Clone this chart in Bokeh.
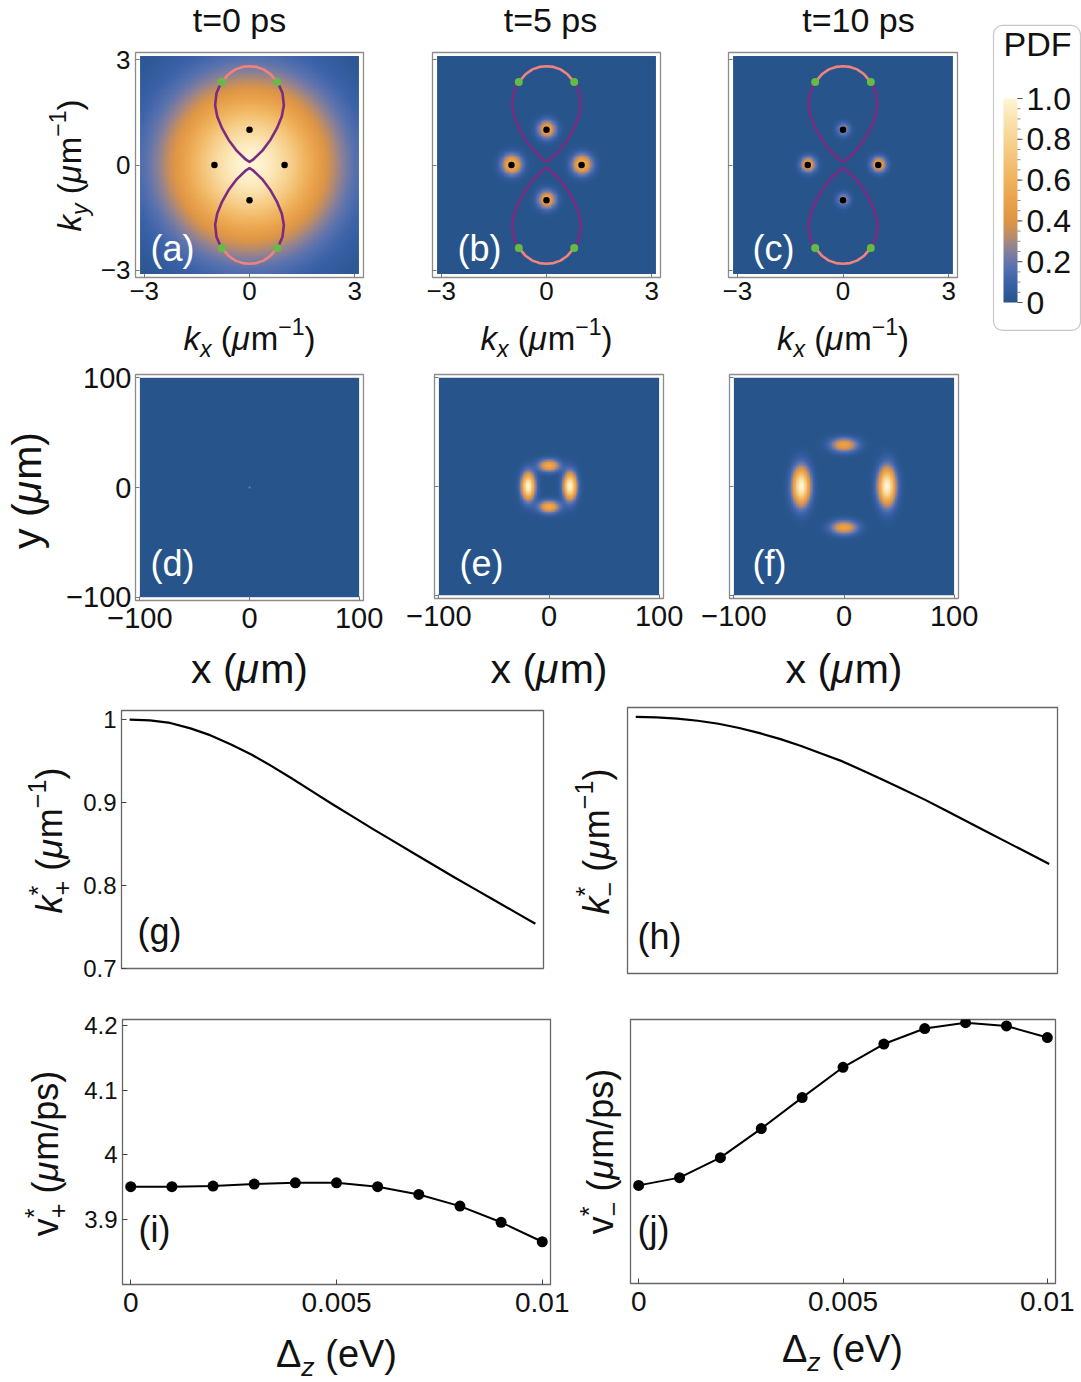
import numpy as np
from math import pi
from bokeh.plotting import figure
from bokeh.layouts import column, row
from bokeh.models import Range1d, FixedTicker, LinearColorMapper, Label, BoxAnnotation
from bokeh.core.properties import value
from bokeh.embed import file_html
from bokeh.resources import INLINE

FONT = "Liberation Sans"
MID = 0.3465  # distance from the alphabetic baseline to the middle of a text line, in em

# ---------------- data ----------------
time_titles = ["t=0 ps", "t=5 ps", "t=10 ps"]
panel_tags = ["(a)", "(b)", "(c)", "(d)", "(e)", "(f)", "(g)", "(h)", "(i)", "(j)"]

k_ticks = [-3, 0, 3]
k_tick_labels = ["−3", "0", "3"]
r_ticks = [-100, 0, 100]
r_tick_labels = ["−100", "0", "100"]

# right half of the upper spin-texture lobe (purple) and its cap (pink)
lobe_kx = [0.0, 0.10, 0.36, 0.60, 0.78, 0.92, 0.98, 0.94, 0.86, 0.79]
lobe_ky = [0.09, 0.15, 0.40, 0.72, 1.04, 1.38, 1.70, 2.05, 2.23, 2.36]
cap_kx = [0.79, 0.60, 0.40, 0.20, 0.0]
cap_ky = [2.36, 2.58, 2.72, 2.79, 2.81]
green_kx = [0.79, -0.79, 0.79, -0.79]
green_ky = [2.36, 2.36, -2.36, -2.36]
valley_kx = [0, 0, -1, 1]
valley_ky = [1, -1, 0, 0]

# momentum-space wave-packet components: centre, widths, peak PDF
a_cx, a_cy, a_sx, a_sy, a_amp = [0.0], [0.0], [1.6], [1.6], [1.0]
b_cx, b_cy = [1, -1, 0, 0], [0, 0, 1, -1]
b_sx, b_sy = [0.2, 0.2, 0.18, 0.18], [0.2, 0.2, 0.18, 0.18]
b_amp = [0.62, 0.62, 0.55, 0.55]
c_cx, c_cy = [1, -1, 0, 0], [0, 0, 1, -1]
c_sx, c_sy = [0.15, 0.15, 0.13, 0.13], [0.15, 0.15, 0.13, 0.13]
c_amp = [0.55, 0.55, 0.32, 0.32]

# real-space wave-packet components
d_cx, d_cy, d_sx, d_sy, d_amp = [0.0], [0.0], [0.7], [0.7], [0.35]
e_cx, e_cy = [19, -19, 0, 0], [0, 0, 19, -19]
e_sx, e_sy = [4.2, 4.2, 6.8, 6.8], [8.5, 8.5, 4.0, 4.0]
e_amp = [1.0, 1.0, 0.55, 0.55]
f_cx, f_cy = [39, -39, 0, 0], [0, 0, 38, -38]
f_sx, f_sy = [5.5, 5.5, 8.5, 8.5], [12.0, 12.0, 4.5, 4.5]
f_amp = [1.0, 1.0, 0.5, 0.5]

# Zeeman-gap sweep
dz_fine = [0.0, 0.0005, 0.001, 0.0015, 0.002, 0.0025, 0.003, 0.0035, 0.004, 0.0045, 0.005,
           0.0055, 0.006, 0.0065, 0.007, 0.0075, 0.008, 0.0085, 0.009, 0.0095, 0.010]
k_plus = [1.000, 0.999, 0.996, 0.9895, 0.981, 0.970, 0.958, 0.944, 0.929, 0.9135, 0.898,
          0.883, 0.868, 0.8535, 0.839, 0.8245, 0.810, 0.796, 0.782, 0.768, 0.754]
k_minus = [1.000, 0.9995, 0.998, 0.9955, 0.992, 0.987, 0.981, 0.974, 0.966, 0.957, 0.948,
           0.937, 0.926, 0.9145, 0.903, 0.8905, 0.878, 0.8655, 0.853, 0.8405, 0.828]
dz = [0.0, 0.001, 0.002, 0.003, 0.004, 0.005, 0.006, 0.007, 0.008, 0.009, 0.010]
v_plus = [3.951, 3.951, 3.952, 3.955, 3.957, 3.957, 3.951, 3.939, 3.921, 3.896, 3.866]
v_minus = [3.952, 3.964, 3.995, 4.040, 4.088, 4.135, 4.171, 4.195, 4.204, 4.199, 4.181]

dz_ticks = [0, 0.005, 0.01]
dz_tick_labels = ["0", "0.005", "0.01"]
kstar_ticks = [0.7, 0.8, 0.9, 1.0]
kstar_tick_labels = ["0.7", "0.8", "0.9", "1"]
vstar_ticks = [3.9, 4.0, 4.1, 4.2]
vstar_tick_labels = ["3.9", "4", "4.1", "4.2"]
cb_ticks = [0, 0.2, 0.4, 0.6, 0.8, 1.0]
cb_tick_labels = ["0", "0.2", "0.4", "0.6", "0.8", "1.0"]
cb_minor = [round(0.05 * i, 2) for i in range(21)]

# ---------------- colour map ----------------
cmap_stops = [0.0, 0.10, 0.18, 0.26, 0.33, 0.40, 0.50, 0.62, 0.76, 0.90, 1.0]
cmap_colors = ["#27548B", "#3C62A9", "#5A73AE", "#8C8196", "#BC8C68", "#DD9646",
               "#EAA24C", "#F0B661", "#F6CD88", "#FBE3AF", "#FFF5D5"]


def build_palette(stops, colors, n=256):
    rgb = np.array([[int(c[i:i + 2], 16) for i in (1, 3, 5)] for c in colors], float)
    out = []
    for t in np.linspace(0, 1, n):
        r, g, b = (np.interp(t, stops, rgb[:, j]) for j in range(3))
        out.append("#%02x%02x%02x" % (int(round(r)), int(round(g)), int(round(b))))
    return out


palette = build_palette(cmap_stops, cmap_colors)
mapper = LinearColorMapper(palette=palette, low=0, high=1)


def pdf_image(cx, cy, sx, sy, amp, x0, x1, y0, y1, n=260):
    xs = np.linspace(x0, x1, n)
    ys = np.linspace(y0, y1, n)
    X, Y = np.meshgrid(xs, ys)
    Z = np.zeros_like(X)
    for x, y, wx, wy, a in zip(cx, cy, sx, sy, amp):
        Z += a * np.exp(-((X - x) ** 2 / (2 * wx ** 2) + (Y - y) ** 2 / (2 * wy ** 2)))
    return np.clip(Z, 0, 1)


# ---------------- helpers ----------------
W = {"k": 500, "x": 500, "y": 500, "z": 500, "v": 500, " ": 278, "(": 333, ")": 333,
     "μ": 576, "m": 833, "−": 584, "1": 556, "*": 389, "+": 584, "/": 278, "p": 556,
     "s": 500, "Δ": 668, "e": 556, "V": 667}


def text_width(t, size):
    return sum(W.get(ch, 556) for ch in t) / 1000.0 * size


def unalign(p):
    try:
        p.frame_align = False
    except Exception:
        pass


def make_panel(cell, frame, xr, yr, outline="#8c8c8c", xaxis=True, yaxis=True):
    cx0, cy0, cx1, cy1 = cell
    fx0, fy0, fx1, fy1 = frame
    p = figure(width=cx1 - cx0, height=cy1 - cy0,
               x_range=Range1d(*xr), y_range=Range1d(*yr),
               min_border_left=fx0 - cx0, min_border_right=cx1 - fx1,
               min_border_top=fy0 - cy0, min_border_bottom=cy1 - fy1,
               x_axis_location="below" if xaxis else None,
               y_axis_location="left" if yaxis else None,
               toolbar_location=None, tools="", output_backend="svg")
    unalign(p)
    p.grid.visible = False
    p.outline_line_color = outline
    p.outline_line_width = 1.3
    p.background_fill_color = "white"
    p.border_fill_color = "white"
    return p


def strip(x0, y0, x1, y1):
    """A blank canvas in page-pixel coordinates that carries axis captions."""
    p = figure(width=x1 - x0, height=y1 - y0, x_range=Range1d(x0, x1), y_range=Range1d(y1, y0),
               min_border_left=0, min_border_right=0, min_border_top=0, min_border_bottom=0,
               x_axis_location=None, y_axis_location=None,
               toolbar_location=None, tools="", output_backend="svg")
    unalign(p)
    p.grid.visible = False
    p.outline_line_color = None
    p.background_fill_color = "white"
    p.border_fill_color = "white"
    return p


def style_axis(ax, ticks, labels, size, color, standoff, tick_len=5):
    ax.ticker = FixedTicker(ticks=ticks)
    ax.major_label_overrides = dict(zip(ticks, labels))
    ax.major_tick_in = tick_len
    ax.major_tick_out = 0
    ax.major_tick_line_color = color
    ax.major_tick_line_width = 1
    ax.minor_tick_line_color = None
    ax.axis_line_color = None
    ax.major_label_text_font = FONT
    ax.major_label_text_font_size = f"{size}px"
    ax.major_label_text_color = "#111111"
    ax.major_label_standoff = standoff


def math_label(p, runs, size, ax, ay, rotated=False, color="#111111"):
    """Runs of (text, rel size, italic, baseline shift in em, advances), centred on
    the point (ax, ay) which lies on the baseline of the caption."""
    total = sum(text_width(t, size * rel) for t, rel, it, sh, adv in runs if adv)
    pos = -total / 2.0
    for t, rel, it, sh, adv in runs:
        fs = size * rel
        shown = t.lstrip(" ")
        lead = text_width(" " * (len(t) - len(shown)), fs)
        if rotated:
            x, y, ang = ax - sh * size - MID * fs, ay - (pos + lead), pi / 2
        else:
            x, y, ang = ax + pos + lead, ay - sh * size - MID * fs, 0
        p.add_layout(Label(x=x, y=y, text=shown, angle=ang, text_font=FONT,
                           text_font_size=f"{fs:.1f}px",
                           text_font_style="italic" if it else "normal",
                           text_baseline="middle", text_align="left", text_color=color))
        if adv:
            pos += text_width(t, fs)


def tag(p, frame, xr, yr, text, X, Y, color, size=36):
    """Panel letter with its left edge at page x=X and its baseline at page y=Y."""
    fx0, fy0, fx1, fy1 = frame
    ym = Y - MID * size
    x = xr[0] + (X - fx0) / (fx1 - fx0) * (xr[1] - xr[0])
    y = yr[1] - (ym - fy0) / (fy1 - fy0) * (yr[1] - yr[0])
    p.add_layout(Label(x=x, y=y, text=text, text_font=FONT, text_font_size=f"{size}px",
                       text_baseline="middle", text_align="left", text_color=color))


def k_label_runs(sub):
    return [("k", 1, True, 0, True), (sub, 0.7, True, -0.22, True), (" (", 1, False, 0, True),
            ("μ", 1, True, 0, True), ("m", 1, False, 0, True), ("−1", 0.7, False, 0.45, True),
            (")", 1, False, 0, True)]


def kstar_runs(sign):
    return [("k", 1, True, 0, True), ("*", 0.7, False, 0.42, False), (sign, 0.7, False, -0.25, True),
            (" (", 1, False, 0, True), ("μ", 1, True, 0, True), ("m", 1, False, 0, True),
            ("−1", 0.7, False, 0.45, True), (")", 1, False, 0, True)]


def vstar_runs(sign):
    return [("v", 1, False, 0, True), ("*", 0.7, False, 0.42, False), (sign, 0.7, False, -0.25, True),
            (" (", 1, False, 0, True), ("μ", 1, True, 0, True), ("m/ps)", 1, False, 0, True)]


def xy_runs(var):
    return [(var, 1, False, 0, True), (" (", 1, False, 0, True), ("μ", 1, True, 0, True),
            ("m)", 1, False, 0, True)]


dz_runs = [("Δ", 1, False, 0, True), ("z", 0.7, True, -0.22, True), (" (eV)", 1, False, 0, True)]


def zero_pos(frame, rng):
    fx0, fy0, fx1, fy1 = frame
    return fx0 + (0 - rng[0]) / (rng[1] - rng[0]) * (fx1 - fx0)


# full lobe outlines built from the half-lobe arrays
purple_x = [-v for v in lobe_kx[::-1]] + lobe_kx[1:]
purple_y = lobe_ky[::-1] + lobe_ky[1:]
pink_x = [-v for v in cap_kx] + cap_kx[::-1][1:]
pink_y = cap_ky + cap_ky[::-1][1:]

# ---------------- top block: momentum space ----------------
K_RANGE_X = (-3.25, 3.25)
K_RANGE_Y = (-3.2, 3.2)
row1_cells = [(95, 43, 400, 312), (400, 43, 695, 312), (695, 43, 985, 312)]
row1_frames = [(135, 52, 363, 277), (432, 52, 660, 277), (728, 52, 957, 277)]
row1_title_x = [239, 550, 858]
row1_tag_x = [150, 457, 752]
k_blobs = [(a_cx, a_cy, a_sx, a_sy, a_amp), (b_cx, b_cy, b_sx, b_sy, b_amp),
           (c_cx, c_cy, c_sx, c_sy, c_amp)]

title_strip = strip(0, 0, 985, 43)
ky_strip = strip(0, 43, 95, 312)
kx_strip = strip(0, 312, 985, 362)
math_label(ky_strip, k_label_runs("y"), 33, 80, 165, rotated=True)

row1 = []
for i in range(3):
    p = make_panel(row1_cells[i], row1_frames[i], K_RANGE_X, K_RANGE_Y)
    Z = pdf_image(*k_blobs[i], -3.12, 3.12, -3.1, 3.1)
    p.image(image=[Z], x=-3.12, y=-3.1, dw=6.24, dh=6.2, color_mapper=mapper)
    for s in (1, -1):
        p.line(purple_x, [s * v for v in purple_y], line_color="#7B2C80", line_width=2.6,
               line_join="round")
        p.line(pink_x, [s * v for v in pink_y], line_color="#F0837F", line_width=2.6,
               line_join="round")
    p.scatter(green_kx, green_ky, size=8, fill_color="#66BB44", line_color=None)
    p.scatter(valley_kx, valley_ky, size=6.5, fill_color="black", line_color=None)
    style_axis(p.xaxis[0], k_ticks, k_tick_labels, 26, "#777777", 4, 4)
    style_axis(p.yaxis[0], k_ticks, k_tick_labels if i == 0 else ["", "", ""], 26, "#777777", 5, 4)
    tag(p, row1_frames[i], K_RANGE_X, K_RANGE_Y, panel_tags[i], row1_tag_x[i], 260, "white")
    title_strip.add_layout(Label(x=row1_title_x[i], y=31 - MID * 34, text=time_titles[i],
                                 text_font=FONT, text_font_size="34px", text_baseline="middle",
                                 text_align="center", text_color="#111111"))
    math_label(kx_strip, k_label_runs("x"), 33, zero_pos(row1_frames[i], K_RANGE_X), 349)
    row1.append(p)

# colour bar (values 0..1 span page y 302..98)
cb = figure(width=96, height=362, x_range=Range1d(0, 96), y_range=Range1d(-0.2941, 1.4804),
            min_border_left=0, min_border_right=0, min_border_top=0, min_border_bottom=0,
            x_axis_location=None, y_axis_location=None,
            toolbar_location=None, tools="", output_backend="svg")
unalign(cb)
cb.grid.visible = False
cb.outline_line_color = None
cb.background_fill_color = "white"
cb.border_fill_color = "white"
levels = np.linspace(0, 1, 256).reshape(256, 1)
cb.image(image=[levels], x=18, y=0, dw=14, dh=1, color_mapper=mapper)
cb.segment(x0=[32] * len(cb_minor), y0=cb_minor, x1=[35] * len(cb_minor), y1=cb_minor,
           line_color="#888888", line_width=1)
cb.segment(x0=[32] * len(cb_ticks), y0=cb_ticks, x1=[37] * len(cb_ticks), y1=cb_ticks,
           line_color="#555555", line_width=1)
cb.text(x=[41] * len(cb_ticks), y=cb_ticks, text=cb_tick_labels, text_font=value(FONT),
        text_font_size="32px", text_baseline="middle", text_align="left", text_color="#111111")
cb.text(x=[18], y=[1 + (98 - (55 - MID * 34)) / 204.0], text=["PDF"], text_font=value(FONT),
        text_font_size="34px", text_baseline="middle", text_align="left", text_color="#111111")
cb.add_layout(BoxAnnotation(left=8, right=95, bottom=-0.137, top=1.358, fill_alpha=0,
                            line_color="#444444", line_width=1.2, border_radius=9))

top_block = row(column(title_strip, row(ky_strip, *row1), kx_strip), cb)

# ---------------- middle block: real space ----------------
R_RANGE_X = (-104, 104)
R_RANGE_Y = (-103, 103)
row2_cells = [(58, 362, 400, 645), (400, 362, 695, 645), (695, 362, 1081, 645)]
row2_frames = [(135, 374, 363, 600), (434, 374, 663, 598), (729, 374, 958, 598)]
row2_tag_x = [150, 459, 752]
r_blobs = [(d_cx, d_cy, d_sx, d_sy, d_amp), (e_cx, e_cy, e_sx, e_sy, e_amp),
           (f_cx, f_cy, f_sx, f_sy, f_amp)]

y_strip = strip(0, 362, 58, 645)
x_strip = strip(0, 645, 1081, 700)
math_label(y_strip, xy_runs("y"), 41, 41, 490, rotated=True)

row2 = []
for i in range(3):
    p = make_panel(row2_cells[i], row2_frames[i], R_RANGE_X, R_RANGE_Y)
    Z = pdf_image(*r_blobs[i], -100, 100, -100, 100, n=300)
    p.image(image=[Z], x=-100, y=-100, dw=200, dh=200, color_mapper=mapper)
    style_axis(p.xaxis[0], r_ticks, r_tick_labels, 29, "#777777", 7, 4)
    style_axis(p.yaxis[0], r_ticks, r_tick_labels if i == 0 else ["", "", ""], 29, "#777777", 4, 4)
    tag(p, row2_frames[i], R_RANGE_X, R_RANGE_Y, panel_tags[3 + i], row2_tag_x[i], 575, "white")
    math_label(x_strip, xy_runs("x"), 41, zero_pos(row2_frames[i], R_RANGE_X), 683)
    row2.append(p)

mid_block = column(row(y_strip, *row2), x_strip)

# ---------------- k* vs Δz ----------------
DZ_RANGE = (-0.0002, 0.0102)
KS_RANGE = (0.7, 1.011)
VS_RANGE = (3.80, 4.209)

g_frame = (121, 710, 543, 968)
g_strip = strip(0, 700, 78, 1000)
math_label(g_strip, kstar_runs("+"), 36, 61, 840, rotated=True)
g = make_panel((78, 700, 564, 1000), g_frame, DZ_RANGE, KS_RANGE, outline="#666666", xaxis=False)
g.line(dz_fine, k_plus, line_color="black", line_width=2.2, line_join="round")
style_axis(g.yaxis[0], kstar_ticks, kstar_tick_labels, 24, "#444444", 5, 5)
tag(g, g_frame, DZ_RANGE, KS_RANGE, panel_tags[6], 137, 943, "#111111")

h_frame = (627, 707, 1057, 973)
h_strip = strip(564, 700, 624, 1000)
math_label(h_strip, kstar_runs("−"), 36, 608, 841, rotated=True)
h = make_panel((624, 700, 1081, 1000), h_frame, DZ_RANGE, KS_RANGE,
               outline="#666666", xaxis=False, yaxis=False)
h.line(dz_fine, k_minus, line_color="black", line_width=2.2, line_join="round")
tag(h, h_frame, DZ_RANGE, KS_RANGE, panel_tags[7], 637, 948, "#111111")

k_block = row(g_strip, g, h_strip, h)

# ---------------- v* vs Δz ----------------
i_frame = (122, 1019, 550, 1284)
i_strip = strip(0, 1000, 72, 1328)
math_label(i_strip, vstar_runs("+"), 36, 57, 1153, rotated=True)
ip = make_panel((72, 1000, 572, 1328), i_frame, DZ_RANGE, VS_RANGE, outline="#666666")
ip.line(dz, v_plus, line_color="black", line_width=2)
ip.scatter(dz, v_plus, size=11, fill_color="black", line_color=None)
style_axis(ip.yaxis[0], vstar_ticks, vstar_tick_labels, 24, "#444444", 5, 5)
style_axis(ip.xaxis[0], dz_ticks, dz_tick_labels, 28, "#444444", 8, 5)
tag(ip, i_frame, DZ_RANGE, VS_RANGE, panel_tags[8], 138, 1241, "#111111")

j_frame = (630, 1019, 1055, 1283)
j_strip = strip(572, 1000, 628, 1328)
math_label(j_strip, vstar_runs("−"), 36, 612, 1151, rotated=True)
jp = make_panel((628, 1000, 1081, 1328), j_frame, DZ_RANGE, VS_RANGE,
                outline="#666666", yaxis=False)
jp.line(dz, v_minus, line_color="black", line_width=2)
jp.scatter(dz, v_minus, size=11, fill_color="black", line_color=None)
style_axis(jp.xaxis[0], dz_ticks, dz_tick_labels, 28, "#444444", 8, 5)
tag(jp, j_frame, DZ_RANGE, VS_RANGE, panel_tags[9], 637, 1241, "#111111")

dz_strip = strip(0, 1328, 1081, 1382)
math_label(dz_strip, dz_runs, 38, 336, 1367)
math_label(dz_strip, dz_runs, 38, 842, 1362)

v_block = column(row(i_strip, ip, j_strip, jp), dz_strip)

layout = column(top_block, mid_block, k_block, v_block)

with open("out.html", "w") as fh:
    fh.write(file_html(layout, INLINE))
